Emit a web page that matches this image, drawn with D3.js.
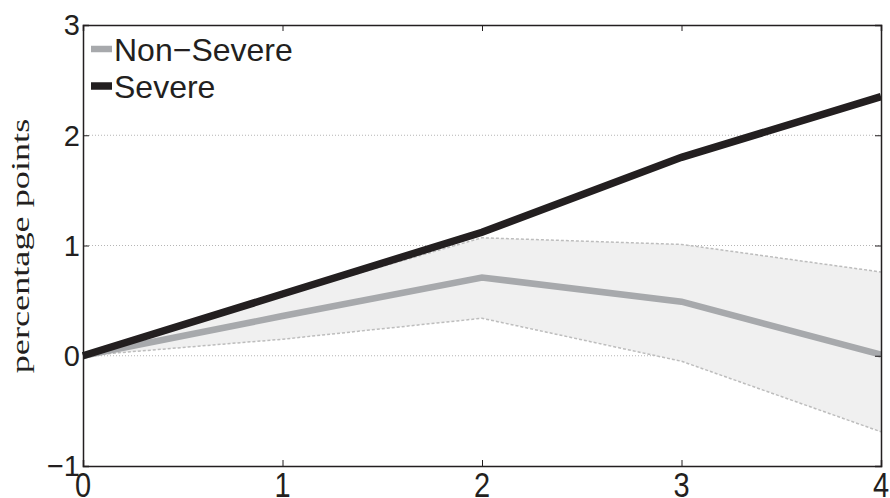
<!DOCTYPE html>
<html>
<head>
<meta charset="utf-8">
<script src="https://cdn.jsdelivr.net/npm/d3@7"></script>
<style>
  body { margin: 0; background: #fff; }
  text { font-family: "Liberation Sans", Arial, sans-serif; fill: #231f20; }
  .ylabel { font-family: "Liberation Serif", "Times New Roman", serif; }
  .grid { stroke: #b5b5b5; stroke-width: 1; stroke-dasharray: 1,2; }
  .band { fill: #f0f0f0; stroke: none; }
  .band-edge { fill: none; stroke: #bdbdbd; stroke-width: 1.5; stroke-dasharray: 3,2; }
</style>
</head>
<body>
<svg id="chart"></svg>
<script>
/* DATA */
var steps = [0, 1, 2, 3, 4];
var severe = [0, 0.56, 1.12, 1.80, 2.35];
var nonSevere = [0, 0.36, 0.71, 0.49, 0.01];
var bandUpper = [0, 0.55, 1.07, 1.01, 0.76];
var bandLower = [0, 0.15, 0.34, -0.05, -0.69];
var yTicks = [-1, 0, 1, 2, 3];
var gridTicks = [0, 1, 2];

/* SETUP */
var width = 890;
var height = 498;
var plotLeft = 83, plotRight = 881, plotTop = 25, plotBottom = 466;
var ink = "#231f20";
var grey = "#a7a9ac";

var svg = d3.select("svg#chart")
  .attr("width", width)
  .attr("height", height);

var x = d3.scaleLinear().domain([0, 4]).range([plotLeft, plotRight]);
var y = d3.scaleLinear().domain([-1, 3]).range([plotBottom, plotTop]);

/* GRID */
svg.append("g").selectAll("line")
  .data(gridTicks)
  .enter()
  .append("line")
  .attr("class", "grid")
  .attr("x1", plotLeft).attr("x2", plotRight)
  .attr("y1", d => y(d)).attr("y2", d => y(d));

/* CONFIDENCE BAND */
var bandData = steps.map((s, i) => ({ s: s, lo: bandLower[i], hi: bandUpper[i] }));

svg.append("path")
  .datum(bandData)
  .attr("class", "band")
  .attr("d", d3.area().x(d => x(d.s)).y0(d => y(d.lo)).y1(d => y(d.hi)));

svg.append("path")
  .datum(bandData)
  .attr("class", "band-edge")
  .attr("d", d3.line().x(d => x(d.s)).y(d => y(d.hi)));

svg.append("path")
  .datum(bandData)
  .attr("class", "band-edge")
  .attr("d", d3.line().x(d => x(d.s)).y(d => y(d.lo)));

/* LINES */
var line = d3.line().x((d, i) => x(steps[i])).y(d => y(d));

svg.append("path")
  .datum(nonSevere)
  .attr("fill", "none")
  .attr("stroke", grey)
  .attr("stroke-width", 6.5)
  .attr("d", line);

svg.append("path")
  .datum(severe)
  .attr("fill", "none")
  .attr("stroke", ink)
  .attr("stroke-width", 7.5)
  .attr("d", line);

/* AXES (boxed, ticks inward) */
var tickLen = 6;
var axes = svg.append("g");

axes.append("g")
  .attr("transform", translate(0, plotBottom))
  .call(d3.axisBottom(x).tickValues(steps).tickSize(-tickLen).tickFormat(""));
axes.append("g")
  .attr("transform", translate(0, plotTop))
  .call(d3.axisTop(x).tickValues(steps).tickSize(-tickLen).tickFormat(""));
axes.append("g")
  .attr("transform", translate(plotLeft, 0))
  .call(d3.axisLeft(y).tickValues(yTicks).tickSize(-tickLen).tickFormat(""));
axes.append("g")
  .attr("transform", translate(plotRight, 0))
  .call(d3.axisRight(y).tickValues(yTicks).tickSize(-tickLen).tickFormat(""));

axes.selectAll(".domain").attr("stroke", ink).attr("stroke-width", 1.5);
axes.selectAll(".tick line").attr("stroke", ink).attr("stroke-width", 1);

/* TICK LABELS */
svg.append("g").selectAll("text")
  .data(yTicks)
  .enter()
  .append("text")
  .attr("x", plotLeft - 3)
  .attr("y", d => y(d))
  .attr("dy", "0.36em")
  .attr("text-anchor", "end")
  .style("font-size", "29px")
  .text(d => d < 0 ? "\u2212" + Math.abs(d) : d);

svg.append("g").selectAll("text")
  .data(steps)
  .enter()
  .append("text")
  .attr("transform", d => translate(x(d), 497) + " scale(1,1.22)")
  .attr("text-anchor", "middle")
  .style("font-size", "29px")
  .text(d => d);

/* Y LABEL */
svg.append("text")
  .attr("class", "ylabel")
  .attr("transform", translate(29, 246) + " rotate(-90) scale(1.45,1)")
  .attr("text-anchor", "middle")
  .style("font-size", "25px")
  .text("percentage points");

/* LEGEND */
var legendItems = [
  { name: "Non\u2212Severe", color: grey, w: 6.5, y: 49 },
  { name: "Severe", color: ink, w: 7.5, y: 86 }
];

var legend = svg.append("g").selectAll("g")
  .data(legendItems)
  .enter()
  .append("g");

legend.append("line")
  .attr("x1", 91).attr("x2", 112)
  .attr("y1", d => d.y).attr("y2", d => d.y)
  .attr("stroke", d => d.color)
  .attr("stroke-width", d => d.w);

legend.append("text")
  .attr("x", 114)
  .attr("y", d => d.y + 12)
  .style("font-size", "32px")
  .text(d => d.name);

/* HELPER FUNCTION */
function translate(x, y) {
  return 'translate(' + String(x) + ',' + String(y) + ')';
}
</script>
</body>
</html>
